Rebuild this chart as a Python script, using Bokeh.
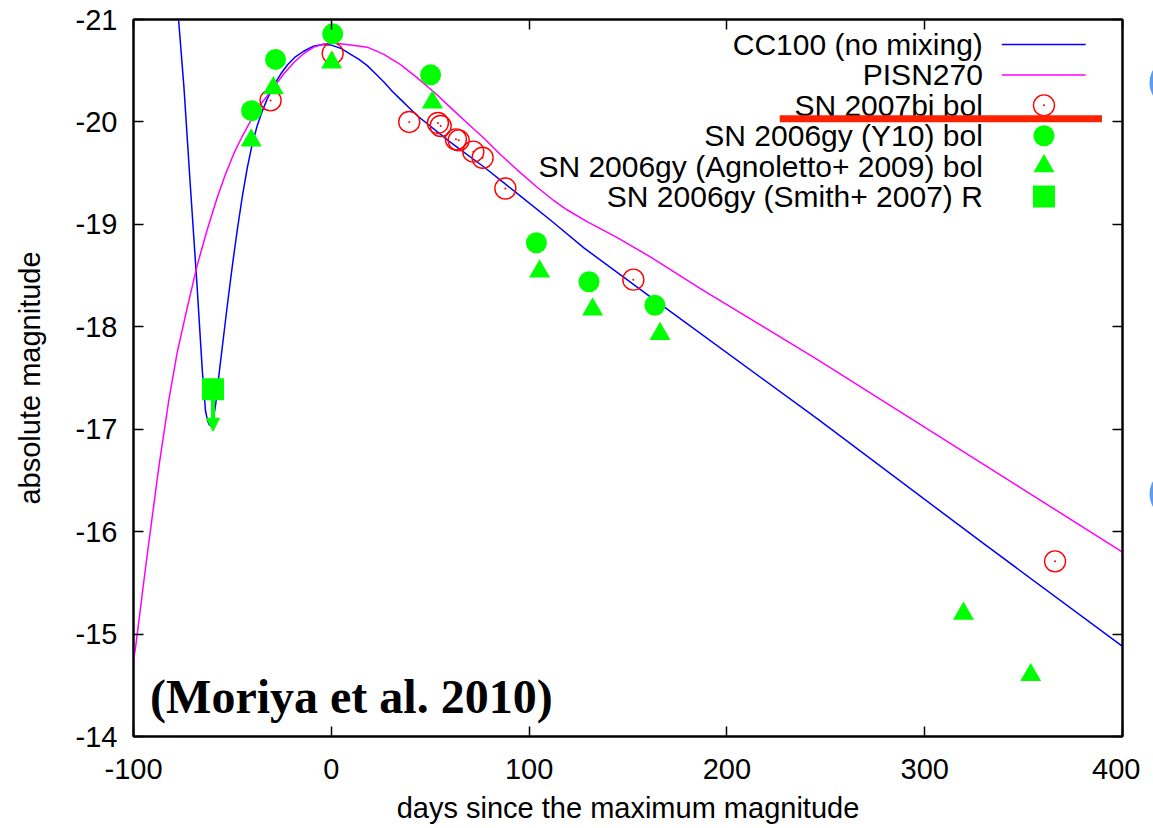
from bokeh.plotting import figure
from bokeh.models import Range1d, FixedTicker, LinearAxis, Arrow, NormalHead
from bokeh.layouts import row
from bokeh.embed import file_html
from bokeh.resources import INLINE
from bokeh.core.properties import value

# ---------------- data ----------------
x_ticks = [-100, 0, 100, 200, 300, 400]
y_ticks = [-21, -20, -19, -18, -17, -16, -15, -14]

cc100_day = [-77.3, -74.5, -71.2, -67.8, -65.2, -63.6, -62.5, -61.6, -60.6, -59.6,
             -58.4, -56.5, -54.5, -52.5, -50.0, -47.5, -45.0, -42.5, -40.0, -37.5,
             -35.0, -32.5, -29.0, -25.5, -22.0, -18.5, -14.0, -9.0, -4.5, 0.0,
             4.7, 9.8, 14.0, 18.2, 22.4, 26.6, 30.8, 35.0, 39.2, 43.5,
             60.3, 77.2, 94.1, 110.9, 127.7, 161.5, 245.8, 330.0, 400.0]
cc100_mag = [-21.02, -20.34, -19.36, -18.38, -17.57, -17.18, -17.08, -17.04, -17.04, -17.10,
             -17.25, -17.58, -17.90, -18.22, -18.60, -18.95, -19.27, -19.55, -19.78, -19.96,
             -20.10, -20.22, -20.36, -20.47, -20.56, -20.63, -20.69, -20.74, -20.755, -20.75,
             -20.72, -20.66, -20.61, -20.55, -20.47, -20.39, -20.30, -20.22, -20.14, -20.06,
             -19.80, -19.56, -19.30, -19.04, -18.77, -18.29, -17.10, -15.88, -14.88]

pisn_day = [-100.0, -98.96, -93.9, -87.2, -82.1, -77.9, -72.8, -67.8, -62.7, -57.7,
            -53.5, -49.3, -45.0, -40.8, -35.0, -29.0, -24.0, -18.9, -13.8, -8.8,
            -3.7, 1.3, 9.8, 18.2, 26.6, 35.0, 43.5, 52.0, 60.3, 68.7,
            77.2, 85.6, 94.1, 104.2, 112.0, 119.3, 130.0, 144.6, 161.5, 186.8,
            245.8, 400.0]
pisn_mag = [-14.74, -14.87, -15.65, -16.63, -17.29, -17.75, -18.19, -18.60, -18.95, -19.26,
            -19.49, -19.69, -19.86, -20.01, -20.19, -20.34, -20.47, -20.58, -20.67, -20.73,
            -20.76, -20.77, -20.75, -20.73, -20.66, -20.56, -20.43, -20.29, -20.14, -19.99,
            -19.84, -19.68, -19.53, -19.36, -19.24, -19.14, -19.02, -18.87, -18.68, -18.37,
            -17.68, -15.80]

sn07bi_day = [-30.7, 0.7, 39.4, 53.9, 55.3, 63.0, 64.4, 71.8, 76.5, 88.0, 152.7, 365.9]
sn07bi_mag = [-20.21, -20.67, -20.00, -19.99, -19.96, -19.83, -19.82, -19.71, -19.65,
              -19.35, -18.46, -15.71]

y10_day = [-40.3, -28.2, 0.7, 50.2, 103.7, 130.3, 163.6]
y10_mag = [-20.11, -20.61, -20.86, -20.46, -18.82, -18.44, -18.21]

agn_day = [-40.5, -29.3, 0.2, 51.1, 105.3, 132.1, 166.2, 319.6, 353.6]
agn_mag = [-19.82, -20.33, -20.58, -20.19, -18.54, -18.17, -17.93, -15.20, -14.60]

smith_day = [-59.8]
smith_mag = [-17.39]
smith_limit_mag = [-16.98]

legend_labels = ["CC100 (no mixing)", "PISN270", "SN 2007bi bol",
                 "SN 2006gy (Y10) bol", "SN 2006gy (Agnoletto+ 2009) bol",
                 "SN 2006gy (Smith+ 2007) R"]

# ---------------- styles ----------------
BLUE = "#0000ff"
MAGENTA = "#ff00ff"
RED = "#ff0000"
GREEN = "#00ff00"
SANS = "Liberation Sans"
FS = "29px"

p = figure(width=1140, height=828, output_backend="svg", toolbar_location=None,
           x_range=Range1d(-100, 400), y_range=Range1d(-14, -21),
           min_border_left=133, min_border_right=18, min_border_top=19,
           min_border_bottom=92)
p.background_fill_color = "white"
p.border_fill_color = "white"
p.grid.visible = False
p.outline_line_color = "black"
p.outline_line_width = 2

def style_axis(ax, ticks, show_labels):
    ax.ticker = FixedTicker(ticks=ticks)
    ax.major_tick_in = 10
    ax.major_tick_out = 0
    ax.minor_tick_in = 0
    ax.minor_tick_out = 0
    ax.major_tick_line_color = "black"
    ax.major_tick_line_width = 1.5
    ax.axis_line_color = "black"
    ax.axis_line_width = 2
    ax.major_label_text_font = SANS
    ax.major_label_text_color = "black"
    if show_labels:
        ax.major_label_text_font_size = FS
        ax.major_label_overrides = {t: str(t) for t in ticks}
    else:
        ax.major_label_overrides = {t: "" for t in ticks}
        ax.major_label_text_font_size = "0px"
        ax.major_label_standoff = 0

xa = p.xaxis[0]
ya = p.yaxis[0]
style_axis(xa, x_ticks, True)
style_axis(ya, y_ticks, True)
xa.major_label_standoff = 22
ya.major_label_standoff = 16
xa.axis_label = "days since the maximum magnitude"
ya.axis_label = "absolute magnitude"
for ax in (xa, ya):
    ax.axis_label_text_font = SANS
    ax.axis_label_text_font_size = FS
    ax.axis_label_text_font_style = "normal"
    ax.axis_label_text_color = "black"
xa.axis_label_standoff = 10
ya.axis_label_standoff = 27

top_ax = LinearAxis()
right_ax = LinearAxis()
style_axis(top_ax, x_ticks, False)
style_axis(right_ax, y_ticks, False)
p.add_layout(top_ax, "above")
p.add_layout(right_ax, "right")

# ---------------- model curves ----------------
p.line(cc100_day, cc100_mag, line_color=BLUE, line_width=1.5, line_join="round")
p.line(pisn_day, pisn_mag, line_color=MAGENTA, line_width=1.5, line_join="round")

# ---------------- observations ----------------
p.scatter(sn07bi_day, sn07bi_mag, marker="circle", size=21, fill_color=None,
          line_color=RED, line_width=1.4)
p.scatter(sn07bi_day, sn07bi_mag, marker="circle", size=2, fill_color=RED,
          line_color=None)
p.scatter(y10_day, y10_mag, marker="circle", size=21, fill_color=GREEN, line_color=None)
p.scatter(agn_day, agn_mag, marker="triangle", size=21, fill_color=GREEN, line_color=None)
p.add_layout(Arrow(end=NormalHead(size=13, fill_color=GREEN, line_color=GREEN, line_width=1),
                   x_start=smith_day[0], y_start=smith_mag[0],
                   x_end=smith_day[0], y_end=smith_limit_mag[0],
                   line_color=GREEN, line_width=4))
p.scatter(smith_day, smith_mag, marker="square", size=22, fill_color=GREEN, line_color=None)

# ---------------- gnuplot-style key ----------------
key_text_x = 329.4
key_line_x = [339.0, 381.4]
key_mark_x = 360.3
key_y0 = -20.755
key_dy = 0.2965
rows = [key_y0 + i * key_dy for i in range(len(legend_labels))]

p.text(x=[key_text_x] * len(legend_labels), y=rows, text=legend_labels,
       text_align="right", text_baseline="middle", text_font=value(SANS),
       text_font_size="30px", text_color="black")
p.line(key_line_x, [rows[0]] * 2, line_color=BLUE, line_width=1.5)
p.line(key_line_x, [rows[1]] * 2, line_color=MAGENTA, line_width=1.5)
p.scatter([key_mark_x], [rows[2]], marker="circle", size=21, fill_color=None,
          line_color=RED, line_width=1.4)
p.scatter([key_mark_x], [rows[2]], marker="circle", size=2, fill_color=RED, line_color=None)
p.scatter([key_mark_x], [rows[3]], marker="circle", size=21, fill_color=GREEN, line_color=None)
p.scatter([key_mark_x], [rows[4]], marker="triangle", size=21, fill_color=GREEN, line_color=None)
p.scatter([key_mark_x], [rows[5]], marker="square", size=22, fill_color=GREEN, line_color=None)

# red highlight stroke under "SN 2007bi bol"
p.line([226.7, 389.6], [rows[2] + 0.13] * 2, line_color="#ff2200", line_width=7)

# citation
p.text(x=[-91.6], y=[-14.39], text=["(Moriya et al. 2010)"], text_align="left",
       text_baseline="alphabetic", text_font=value("Liberation Serif"),
       text_font_style="bold", text_font_size="48px", text_color="black")

# ---------------- slide decoration at the right edge ----------------
p2 = figure(width=13, height=828, output_backend="svg", toolbar_location=None,
            x_range=Range1d(1140, 1153), y_range=Range1d(828, 0),
            x_axis_location=None, y_axis_location=None, min_border=0)
p2.grid.visible = False
p2.outline_line_color = None
p2.circle(x=[1173.75, 1173.75], y=[73, 548], radius=24.75, fill_color="#5b9cf2",
          line_color=None)

layout = row(p, p2, spacing=0)
open("out.html", "w").write(file_html(layout, INLINE))
